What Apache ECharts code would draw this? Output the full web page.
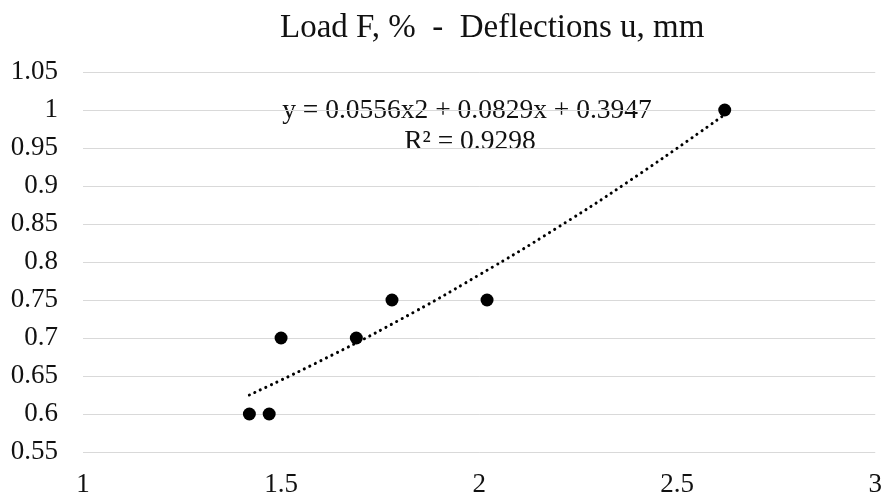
<!DOCTYPE html>
<html>
<head>
<meta charset="utf-8">
<script src="https://cdn.jsdelivr.net/npm/echarts@6/dist/echarts.min.js"></script>
<style>
  html, body { margin: 0; padding: 0; background: #fff; }
  #chart { width: 885px; height: 499px; }
</style>
</head>
<body>
<div id="chart"></div>
<script>
// measured points: deflection u (mm) vs load F (share)
var deflections = [1.42, 1.47, 1.50, 1.69, 1.78, 2.02, 2.62];
var loads = [0.60, 0.60, 0.70, 0.70, 0.75, 0.75, 1.00];

// trend curve
var trendX = [1.42, 1.6, 1.8, 2.0, 2.2, 2.4, 2.62];
var trendY = [0.625, 0.67, 0.724, 0.783, 0.846, 0.914, 0.994];

var titleText = 'Load F, %  -  Deflections u, mm';
var eqText = 'y = 0.0556x2 + 0.0829x + 0.3947';
var r2Text = 'R\u00b2 = 0.9298';

var serif = '"Liberation Serif", "DejaVu Serif", serif';
var textColor = '#111';

var chart = echarts.init(document.getElementById('chart'));

var pts = deflections.map(function (x, i) { return [x, loads[i]]; });
var trend = trendX.map(function (x, i) { return [x, trendY[i]]; });

var option = {
  backgroundColor: '#fff',
  animation: false,
  title: {
    text: titleText,
    left: 275,
    top: 7,
    textStyle: { fontFamily: serif, fontSize: 33, fontWeight: 'normal', color: textColor }
  },
  grid: { left: 83, right: 6, top: 72, bottom: 47 },
  xAxis: {
    type: 'value',
    min: 1, max: 3, interval: 0.5,
    axisLine: { show: false },
    axisTick: { show: false },
    splitLine: { show: false },
    axisLabel: { fontFamily: serif, fontSize: 27, color: textColor, margin: 19 }
  },
  yAxis: {
    type: 'value',
    min: 0.55, max: 1.05, interval: 0.05,
    axisLine: { show: false },
    axisTick: { show: false },
    splitLine: { lineStyle: { color: '#d9d9d9', width: 1 } },
    axisLabel: { fontFamily: serif, fontSize: 27, color: textColor, margin: 25 }
  },
  graphic: [
    { type: 'text', x: 467, y: 111,
      style: { text: eqText, font: '27.5px ' + serif, fill: textColor, align: 'center', verticalAlign: 'middle' } },
    { type: 'text', x: 470, y: 142,
      style: { text: r2Text, font: '27.5px ' + serif, fill: textColor, align: 'center', verticalAlign: 'middle' } }
  ],
  series: [
    {
      type: 'line',
      data: trend,
      smooth: true,
      symbol: 'none',
      lineStyle: { color: '#000', width: 3, type: [0.1, 6], cap: 'round' },
      z: 2
    },
    {
      type: 'scatter',
      data: pts,
      symbol: 'circle',
      symbolSize: 13,
      itemStyle: { color: '#000', opacity: 1 },
      z: 3
    }
  ]
};

chart.setOption(option);
</script>
</body>
</html>
